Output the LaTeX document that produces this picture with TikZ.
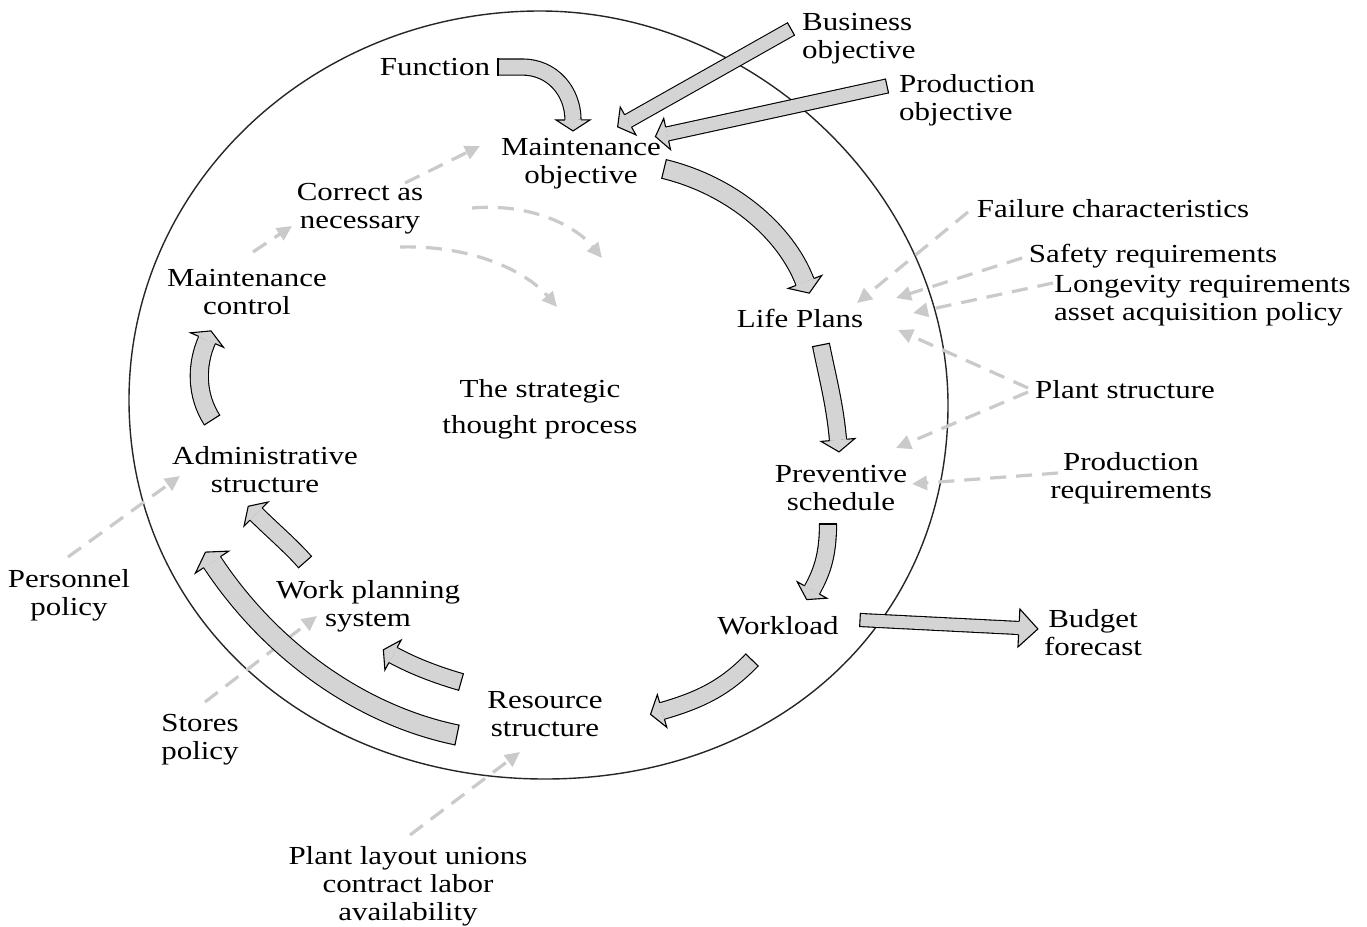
\documentclass[tikz,border=0pt]{standalone}
\usepackage{fontspec}
\setmainfont{Liberation Serif}[FakeStretch=1.19]
\usetikzlibrary{arrows.meta,decorations.markings}
\definecolor{arrowfill}{RGB}{212,212,212}
\definecolor{dashgray}{RGB}{202,202,202}
\begin{document}
\begin{tikzpicture}[x=1pt,y=-1pt,
  lbl/.style={font=\fontsize{26}{28}\selectfont, inner sep=0pt, align=center},
  % block arrow: #1 shaft width, #2 half head width, #3 head length
  blk/.style n args={3}{draw=black, line width=1.1pt, double=arrowfill, double distance=#1,
    postaction={decorate, decoration={markings,
      mark=at position 0 with {\draw[black, line width=1.1pt] (0pt,-#1/2-1.1pt) -- (0pt,#1/2+1.1pt);},
      mark=at position 0.9995 with {\fill[arrowfill] (0pt,-#2) -- (#3,0pt) -- (0pt,#2) -- cycle;
        \draw[black, line width=1.1pt, line join=miter] (0pt,#1/2+0.55pt) -- (0pt,#2) -- (#3,0pt) -- (0pt,-#2) -- (0pt,-#1/2-0.55pt);}}}},
  dsh/.style={draw=dashgray, line width=3.2pt, dash pattern=on 16pt off 10pt,
    -{Triangle[length=15pt,width=14pt]}},
]
\useasboundingbox (0,0) rectangle (1367,926);
\fill[white] (0,0) rectangle (1367,926);

% the outer cycle
\draw[line width=1.4pt, black!85] (540,11) .. controls (756,11) and (948,195) .. (948,405)
  .. controls (948,622) and (779,779) .. (545,779)
  .. controls (308,779) and (129,616) .. (129,400)
  .. controls (129,185) and (313,11) .. (540,11) -- cycle;

% end points of the dashed influence arrows
\coordinate (d1s) at (405,183);  \coordinate (d1e) at (480,146);
\coordinate (d2s) at (253,252);  \coordinate (d2e) at (292,226);
\coordinate (d3s) at (472,208);  \coordinate (d3e) at (602,258);
\coordinate (d4s) at (400,247);  \coordinate (d4e) at (557,307);
\coordinate (d5s) at (968,212);  \coordinate (d5e) at (857,303);
\coordinate (d6s) at (1022,258); \coordinate (d6e) at (896,298);
\coordinate (d7s) at (1053,283); \coordinate (d7e) at (913,313);
\coordinate (d8s) at (1028,388); \coordinate (d8e) at (898,330);
\coordinate (d9s) at (1028,392); \coordinate (d9e) at (896,448);
\coordinate (d10s) at (1058,473); \coordinate (d10e) at (912,484);
\coordinate (d11s) at (68,557);  \coordinate (d11e) at (180,476);
\coordinate (d12s) at (205,702); \coordinate (d12e) at (317,616);
\coordinate (d13s) at (410,835); \coordinate (d13e) at (520,752);

\draw[dsh] (d1s) -- (d1e);
\draw[dsh] (d2s) -- (d2e);
\draw[dsh] (d3s) .. controls (530,203) and (575,225) .. (d3e);
\draw[dsh] (d4s) .. controls (470,245) and (525,270) .. (d4e);
\draw[dsh] (d5s) -- (d5e);
\draw[dsh] (d6s) -- (d6e);
\draw[dsh] (d7s) -- (d7e);
\draw[dsh] (d8s) -- (d8e);
\draw[dsh] (d9s) -- (d9e);
\draw[dsh] (d10s) -- (d10e);
\draw[dsh] (d11s) -- (d11e);
\draw[dsh] (d12s) -- (d12e);
\draw[dsh] (d13s) -- (d13e);

% end points of the block arrows
\coordinate (a1s) at (498,67);  \coordinate (a1e) at (573,120);
\coordinate (a2s) at (791,29);  \coordinate (a2e) at (628,121);
\coordinate (a3s) at (887,86);  \coordinate (a3e) at (667,134);
\coordinate (a4s) at (664,169); \coordinate (a4e) at (805,282);
\coordinate (a5s) at (821,345); \coordinate (a5e) at (838,440);
\coordinate (a6s) at (828,524); \coordinate (a6e) at (812,590);
\coordinate (a7s) at (752,660); \coordinate (a7e) at (662,711);
\coordinate (a8s) at (461,682); \coordinate (a8e) at (393,655);
\coordinate (a9s) at (457,735); \coordinate (a9e) at (212,562);
\coordinate (a10s) at (305,562); \coordinate (a10e) at (256,514);
\coordinate (a11s) at (212,420); \coordinate (a11e) at (207,340);
\coordinate (a12s) at (860,620); \coordinate (a12e) at (1019,628);

\draw[blk={15pt}{17pt}{11pt}] (a1s) -- (522,67) .. controls (553,67) and (573,92) .. (a1e);
\draw[blk={13pt}{16pt}{12pt}] (a2s) -- (a2e);
\draw[blk={13pt}{16pt}{12pt}] (a3s) -- (a3e);
\draw[blk={18pt}{18pt}{12pt}] (a4s) .. controls (730,185) and (785,230) .. (a4e);
\draw[blk={16pt}{17pt}{12pt}] (a5s) .. controls (827,375) and (835,405) .. (a5e);
\draw[blk={16pt}{17pt}{11pt}] (a6s) .. controls (828,555) and (822,572) .. (a6e);
\draw[blk={16pt}{17pt}{12pt}] (a7s) .. controls (725,688) and (700,700) .. (a7e);
\draw[blk={16pt}{17pt}{11pt}] (a8s) .. controls (440,676) and (415,667) .. (a8e);
\draw[blk={19pt}{20pt}{12pt}] (a9s) .. controls (360,715) and (270,650) .. (a9e);
\draw[blk={16pt}{17pt}{11pt}] (a10s) .. controls (290,545) and (272,530) .. (a10e);
\draw[blk={17pt}{18pt}{10pt}] (a11s) .. controls (196,395) and (196,365) .. (a11e);
\draw[blk={12pt}{19pt}{19pt}] (a12s) -- (a12e);

% labels
\node[lbl] (fn) at (435,67) {Function};
\node[lbl] (mo) at (581,164) {Maintenance\\objective};
\node[lbl, anchor=west, align=left] (bo) at (802,39) {Business\\objective};
\node[lbl, anchor=west, align=left] (po) at (899,100) {Production\\objective};
\node[lbl] (ca) at (360,209) {Correct as\\necessary};
\node[lbl] (mc) at (247,292) {Maintenance\\control};
\node[lbl, font=\fontsize{26}{36}\selectfont] (tp) at (540,409) {The strategic\\thought process};
\node[lbl] (as) at (265,470) {Administrative\\structure};
\node[lbl] (wp) at (368,606) {Work planning\\system};
\node[lbl] (pp) at (69,595) {Personnel\\policy};
\node[lbl] (sp) at (200,740) {Stores\\policy};
\node[lbl] (rs) at (545,714) {Resource\\structure};
\node[lbl] (pl) at (408,886) {Plant layout unions\\contract labor\\availability};
\node[lbl] (wl) at (778,626) {Workload};
\node[lbl] (bf) at (1093,633) {Budget\\forecast};
\node[lbl] (ps) at (841,488) {Preventive\\schedule};
\node[lbl] (pr) at (1131,478) {Production\\requirements};
\node[lbl] (pst) at (1125,390) {Plant structure};
\node[lbl] (lp) at (800,318) {Life Plans};
\node[lbl] (fc) at (1113,209) {Failure characteristics};
\node[lbl] (sr) at (1153,256) {Safety requirements};
\node[lbl, anchor=west, align=left] (lr) at (1054,301) {Longevity requirements\\asset acquisition policy};
\end{tikzpicture}
\end{document}
